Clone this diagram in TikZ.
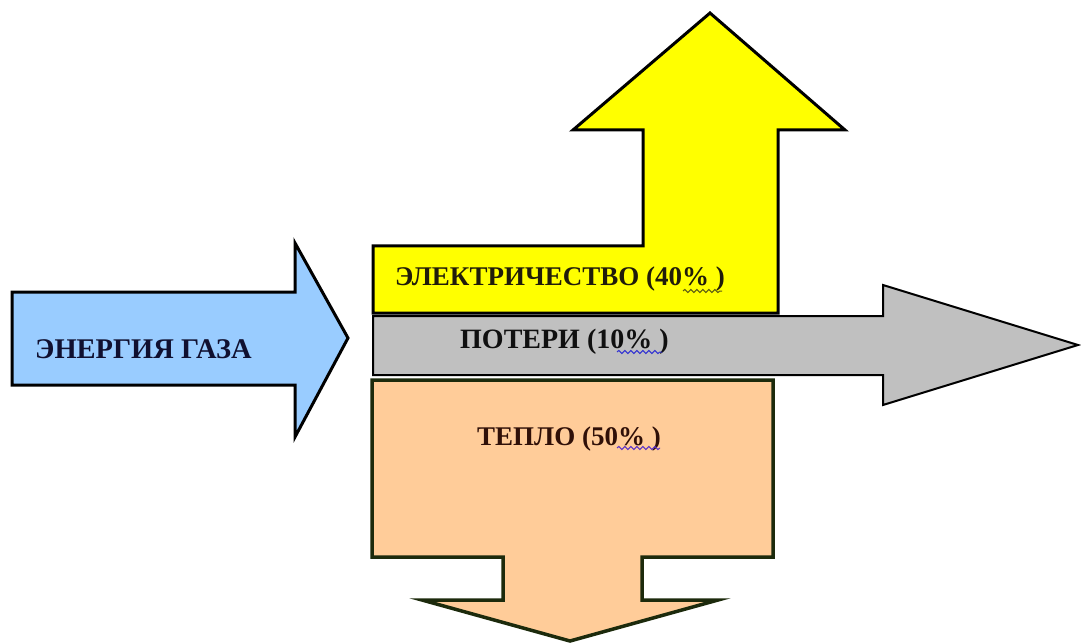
\documentclass[tikz,border=0pt]{standalone}
\usepackage{fontspec}
\setmainfont{Liberation Serif}
\usetikzlibrary{decorations.pathmorphing}

\definecolor{gasblue}{HTML}{99CCFF}
\definecolor{elyellow}{HTML}{FFFF00}
\definecolor{lossgray}{HTML}{C0C0C0}
\definecolor{heatpeach}{HTML}{FFCC99}
\definecolor{heatedge}{HTML}{1C2A0C}

\begin{document}
\begin{tikzpicture}[x=1pt,y=-1pt,
  block/.style={line width=3pt,line join=miter},
  lbl/.style={anchor=base west,inner sep=0pt,font=\fontsize{27}{32}\selectfont\bfseries},
  wavy/.style={decorate,decoration={snake,amplitude=1.6pt,segment length=6pt},line width=1pt}]
  \useasboundingbox (0,0) rectangle (1081,644);
  \fill[white] (0,0) rectangle (1081,644);

  \filldraw[block,fill=gasblue,draw=black] (12,292) -- (295,292) -- (295,243) -- (348,338)
    -- (295,437) -- (295,385) -- (12,385) -- cycle;
  \filldraw[block,fill=elyellow,draw=black] (373,246) -- (643,246) -- (643,130) -- (573,130)
    -- (710,13) -- (845,130) -- (778,130) -- (778,313) -- (373,313) -- cycle;
  \filldraw[block,line width=2pt,fill=lossgray,draw=black] (373,316) -- (883,316) -- (883,285)
    -- (1078,345) -- (883,405) -- (883,375) -- (373,375) -- cycle;
  \filldraw[block,line width=3.5pt,fill=heatpeach,draw=heatedge] (372,380) -- (773,380) -- (773,557)
    -- (642,557) -- (642,600) -- (718,600) -- (570,641) -- (422,600) -- (503,600)
    -- (503,557) -- (372,557) -- cycle;

  \node[lbl,font=\fontsize{28.5}{32}\selectfont\bfseries,text={rgb,255:red,16;green,16;blue,48}] (gas) at (35,358) {ЭНЕРГИЯ ГАЗА};
  \node[lbl,text={rgb,255:red,32;green,28;blue,10}] (elec) at (395,285) {ЭЛЕКТРИЧЕСТВО (40\% )};
  \node[lbl,font=\fontsize{28}{32}\selectfont\bfseries,text={rgb,255:red,16;green,16;blue,16}] (loss) at (460,348) {ПОТЕРИ (10\% )};
  \node[lbl,text={rgb,255:red,48;green,16;blue,8}] (heat) at (477,445) {ТЕПЛО (50\% )};

  \draw[wavy,draw={rgb,255:red,90;green,90;blue,20}] (683,291) -- (722,291);
  \draw[wavy,draw={rgb,255:red,50;green,50;blue,210}] (617,352) -- (662,352);
  \draw[wavy,draw={rgb,255:red,90;green,50;blue,200}] (617,448) -- (660,448);
\end{tikzpicture}
\end{document}
